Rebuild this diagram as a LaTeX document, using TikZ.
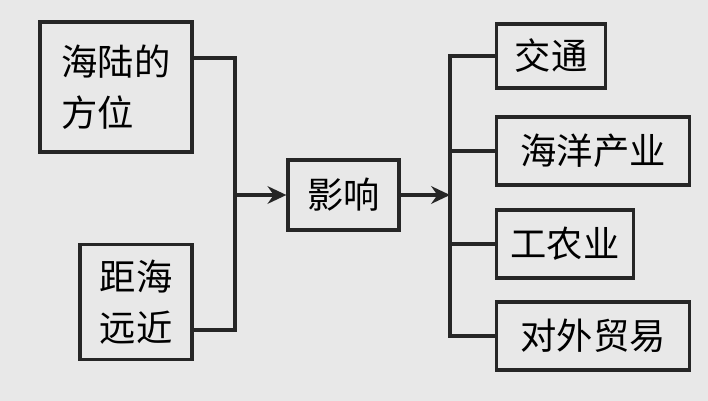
\documentclass[tikz,border=0pt]{standalone}
\usepackage{fontspec}
\newfontfamily\cjk{Noto Sans CJK SC}
\usetikzlibrary{arrows.meta}
\begin{document}
\begin{tikzpicture}[x=0.03cm,y=-0.03cm,
 box/.style={draw=black!85,line width=2.8pt,fill=black!9,inner sep=0pt,font=\cjk\fontsize{31pt}{44pt}\selectfont,align=left},
 ln/.style={draw=black!85,line width=2.8pt},
 arr/.style={ln,-{Stealth[length=16pt,width=15pt]}}]
\fill[black!9] (0,0) rectangle (708,401);
\useasboundingbox (0,0) rectangle (708,401);
\node[box,minimum width=152*0.03cm,minimum height=130*0.03cm] (a) at (116,87) {海陆的\\方位};
\node[box,minimum width=112*0.03cm,minimum height=115*0.03cm] (b) at (136,302) {距海\\远近};
\node[box,minimum width=111*0.03cm,minimum height=70*0.03cm] (c) at (343.5,195) {影响};
\node[box,minimum width=109*0.03cm,minimum height=64*0.03cm,anchor=west] (d1) at (495,56) {交通};
\node[box,minimum width=193*0.03cm,minimum height=68*0.03cm,anchor=west] (d2) at (495,151) {海洋产业};
\node[box,minimum width=137*0.03cm,minimum height=68*0.03cm,anchor=west] (d3) at (495,244) {工农业};
\node[box,minimum width=193*0.03cm,minimum height=68*0.03cm,anchor=west] (d4) at (495,336) {对外贸易};
\coordinate (jl) at (235,195);
\coordinate (jr) at (450,195);
\draw[ln] (a.east|-0,58) -| (jl) |- (b.east|-0,330);
\draw[arr] (jl) -- (c.west);
\draw[arr] (c.east) -- (jr);
\draw[ln] (d1.west) -| (jr) |- (d4.west);
\draw[ln] (jr|-d2.west) -- (d2.west);
\draw[ln] (jr|-d3.west) -- (d3.west);
\end{tikzpicture}
\end{document}
